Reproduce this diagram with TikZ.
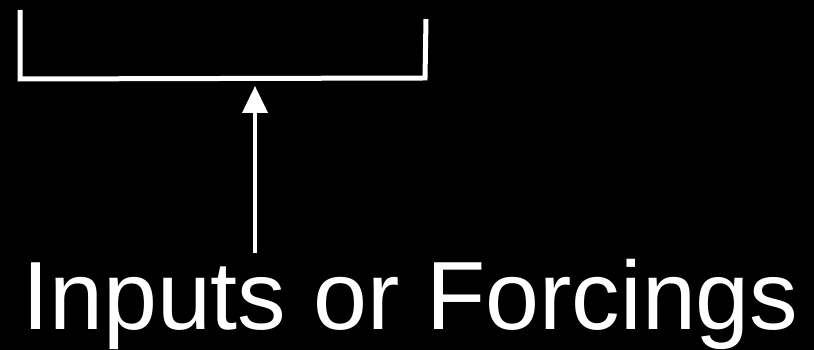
\documentclass[tikz,border=0pt]{standalone}
\usepackage{fontspec}
\setmainfont{Liberation Sans}
\usetikzlibrary{arrows.meta}
\begin{document}
\begin{tikzpicture}[
  x=1pt, y=1pt,
  bracket/.style={draw=white, line width=5pt, line join=miter},
  arrow/.style={-{Triangle[width=25pt,length=27pt]}, draw=white, line width=4pt},
  label/.style={text=white, inner sep=0pt, font=\fontsize{97}{100}\selectfont}
]
\fill[black] (0,0) rectangle (814,350);
\useasboundingbox (0,0) rectangle (814,350);

\coordinate (tl) at (20,340);
\coordinate (bl) at (20,271);
\coordinate (br) at (425,272);
\coordinate (tr) at (426,331);
\coordinate (mid) at (255,264);
\coordinate (foot) at (255,97);

\node[label, anchor=base west] (forcing) at (22,20) {Inputs or Forcings};

\draw[bracket] (tl) -- (bl) -- (br) -- (tr);
\draw[arrow] (foot) -- (mid);
\end{tikzpicture}
\end{document}
